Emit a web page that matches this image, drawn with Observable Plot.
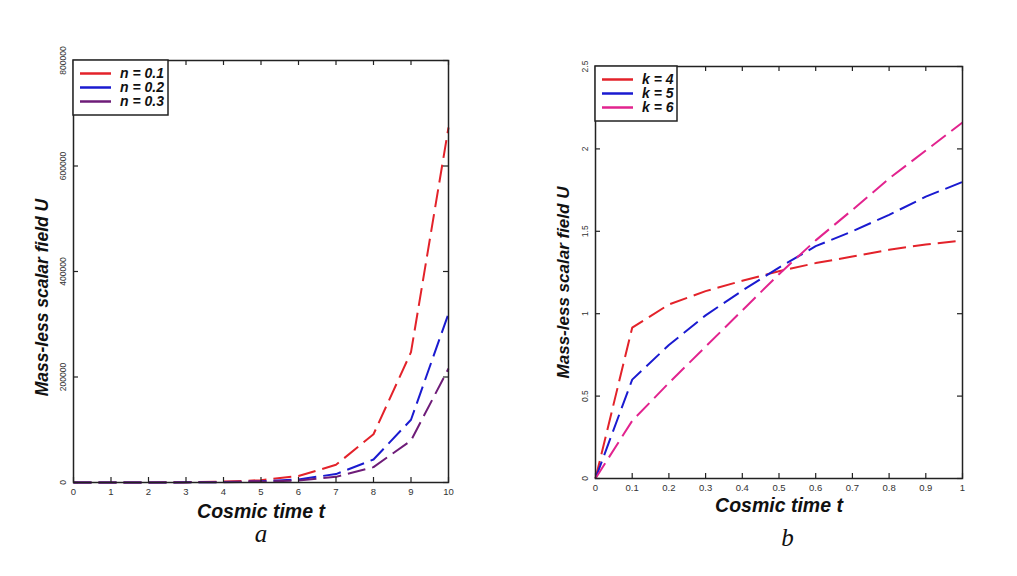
<!DOCTYPE html>
<html>
<head>
<meta charset="utf-8">
<script src="https://cdn.jsdelivr.net/npm/d3@7"></script>
<script src="https://cdn.jsdelivr.net/npm/@observablehq/plot@0.6"></script>
<style>
html, body { margin: 0; padding: 0; background: #fff; }
#wrap { position: relative; width: 1017px; height: 576px; overflow: hidden; background: #fff; }
#wrap svg { position: absolute; top: 0; }
</style>
</head>
<body>
<div id="wrap"></div>
<script>
// ---------- Panel a data ----------
const tA = [0, 1, 2, 3, 4, 5, 6, 7, 8, 9, 10];
const uN01 = [30, 85, 225, 615, 1670, 4500, 12300, 33500, 91500, 247000, 673000];
const uN02 = [15, 40, 105, 290, 790, 2150, 5900, 16000, 43500, 119000, 320000];
const uN03 = [10, 27, 72, 197, 535, 1450, 3950, 10700, 29200, 79500, 216000];
const seriesA = [uN01, uN02, uN03];
const labelsA = ["n = 0.1", "n = 0.2", "n = 0.3"];
const colorsA = ["#e3222a", "#1a1ad0", "#6e1c78"];
const xTicksA = [0, 1, 2, 3, 4, 5, 6, 7, 8, 9, 10];
const xTickLabelsA = ["0", "1", "2", "3", "4", "5", "6", "7", "8", "9", "10"];
const yTicksA = [0, 200000, 400000, 600000, 800000];
const yTickLabelsA = ["0", "200000", "400000", "600000", "800000"];

// ---------- Panel b data ----------
const tB = [0, 0.1, 0.2, 0.3, 0.4, 0.5, 0.6, 0.7, 0.8, 0.9, 1];
const uK4 = [0, 0.915, 1.056, 1.137, 1.2, 1.258, 1.307, 1.347, 1.388, 1.42, 1.445];
const uK5 = [0, 0.6, 0.81, 0.99, 1.14, 1.28, 1.41, 1.5, 1.6, 1.71, 1.8];
const uK6 = [0, 0.35, 0.58, 0.8, 1.02, 1.24, 1.445, 1.63, 1.82, 1.99, 2.16];
const seriesB = [uK4, uK5, uK6];
const labelsB = ["k = 4", "k = 5", "k = 6"];
const colorsB = ["#e3222a", "#1a1ad0", "#e2238e"];
const xTicksB = [0, 0.1, 0.2, 0.3, 0.4, 0.5, 0.6, 0.7, 0.8, 0.9, 1];
const xTickLabelsB = ["0", "0.1", "0.2", "0.3", "0.4", "0.5", "0.6", "0.7", "0.8", "0.9", "1"];
const yTicksB = [0, 0.5, 1, 1.5, 2, 2.5];
const yTickLabelsB = ["0", "0.5", "1", "1.5", "2", "2.5"];

const yTitle = "Mass-less scalar field U";
const xTitle = "Cosmic time t";

function legendMark(ml, mt, w, labels, colors) {
  return () => {
    const g = d3.create("svg:g").attr("text-anchor", "start");
    g.append("rect").attr("x", ml).attr("y", mt).attr("width", w).attr("height", 55)
      .attr("fill", "#fff").attr("stroke", "#222").attr("stroke-width", 1.5);
    labels.forEach((lab, i) => {
      const y = mt + 13.5 + 14 * i;
      g.append("line").attr("x1", ml + 7).attr("x2", ml + 38).attr("y1", y).attr("y2", y)
        .attr("stroke", colors[i]).attr("stroke-width", 2.5);
      g.append("text").attr("x", ml + 47).attr("y", y).attr("dy", "0.35em")
        .attr("text-anchor", "start")
        .attr("font-size", 14).attr("font-weight", "bold").attr("font-style", "italic")
        .attr("fill", "#111").text(lab);
    });
    return g.node();
  };
}

function panel(o) {
  const H = o.height - o.mt - o.mb;
  const W = o.width - o.ml - o.mr;
  const T = 5;
  const marks = [];
  o.series.forEach((ys, i) => {
    const rows = o.xs.map((x, j) => ({x, y: ys[j]}));
    marks.push(Plot.line(rows, {x: "x", y: "y", stroke: o.colors[i], strokeWidth: 2,
      strokeDasharray: "18,7", strokeLinecap: "butt"}));
  });
  // inward ticks on all four sides
  marks.push(Plot.tickX(o.xTicks, {x: d => d, insetTop: H - T, stroke: "#222", strokeWidth: 1.2}));
  marks.push(Plot.tickX(o.xTicks, {x: d => d, insetBottom: H - T, stroke: "#222", strokeWidth: 1.2}));
  marks.push(Plot.tickY(o.yTicks, {y: d => d, insetRight: W - T, stroke: "#222", strokeWidth: 1.2}));
  marks.push(Plot.tickY(o.yTicks, {y: d => d, insetLeft: W - T, stroke: "#222", strokeWidth: 1.2}));
  marks.push(Plot.frame({stroke: "#222", strokeWidth: 1.5}));
  // tick labels
  marks.push(Plot.text(o.xTicks, {x: d => d, text: (d, i) => o.xTickLabels[i], frameAnchor: "bottom",
    textAnchor: "middle", dy: 12, fontSize: 9.5, fill: "#333"}));
  marks.push(Plot.text(o.yTicks, {y: d => d, text: (d, i) => o.yTickLabels[i], frameAnchor: "left",
    textAnchor: "middle", dx: -10, rotate: -90, fontSize: 8.5, fill: "#333"}));
  // axis titles
  marks.push(Plot.text([yTitle], {text: d => d, frameAnchor: "left", textAnchor: "middle",
    dx: o.yTitleDx, dy: o.yTitleDy,
    rotate: -90, fontSize: o.yTitleSize, fontWeight: "bold", fontStyle: "italic", fill: "#111"}));
  marks.push(Plot.text([xTitle], {text: d => d, frameAnchor: "bottom", textAnchor: "middle", dy: o.xTitleDy,
    fontSize: 19.5, fontWeight: "bold", fontStyle: "italic", fill: "#111"}));
  marks.push(Plot.text([o.letter], {text: d => d, frameAnchor: "bottom", textAnchor: "middle",
    dx: o.letterDx, dy: o.letterDy,
    fontSize: 25, fontStyle: "italic", fontFamily: "Liberation Serif, Times New Roman, serif", fill: "#111"}));
  marks.push(legendMark(o.ml, o.mt, o.legendW, o.labels, o.colors));
  const svg = Plot.plot({
    width: o.width, height: o.height,
    marginLeft: o.ml, marginRight: o.mr, marginTop: o.mt, marginBottom: o.mb,
    x: {domain: o.xDomain, axis: null},
    y: {domain: o.yDomain, axis: null},
    style: {fontFamily: "Liberation Sans, Arial, sans-serif", background: "transparent", overflow: "visible"},
    marks
  });
  svg.style.left = o.left + "px";
  return svg;
}

const wrap = document.getElementById("wrap");
wrap.appendChild(panel({
  left: 0, width: 508, height: 576, ml: 73, mr: 60, mt: 60, mb: 94,
  xs: tA, series: seriesA, colors: colorsA, labels: labelsA,
  xDomain: [0, 10], yDomain: [0, 800000],
  xTicks: xTicksA, xTickLabels: xTickLabelsA, yTicks: yTicksA, yTickLabels: yTickLabelsA,
  yTitleDx: -31, yTitleDy: 26, yTitleSize: 17.5, xTitleDy: 35,
  letter: "a", letterDx: 0, letterDy: 59, legendW: 95
}));
wrap.appendChild(panel({
  left: 508, width: 509, height: 576, ml: 87, mr: 55, mt: 66, mb: 98,
  xs: tB, series: seriesB, colors: colorsB, labels: labelsB,
  xDomain: [0, 1], yDomain: [0, 2.5],
  xTicks: xTicksB, xTickLabels: xTickLabelsB, yTicks: yTicksB, yTickLabels: yTickLabelsB,
  yTitleDx: -32, yTitleDy: 10, yTitleSize: 17, xTitleDy: 33.5,
  letter: "b", letterDx: 8.5, letterDy: 67, legendW: 82
}));
</script>
</body>
</html>
